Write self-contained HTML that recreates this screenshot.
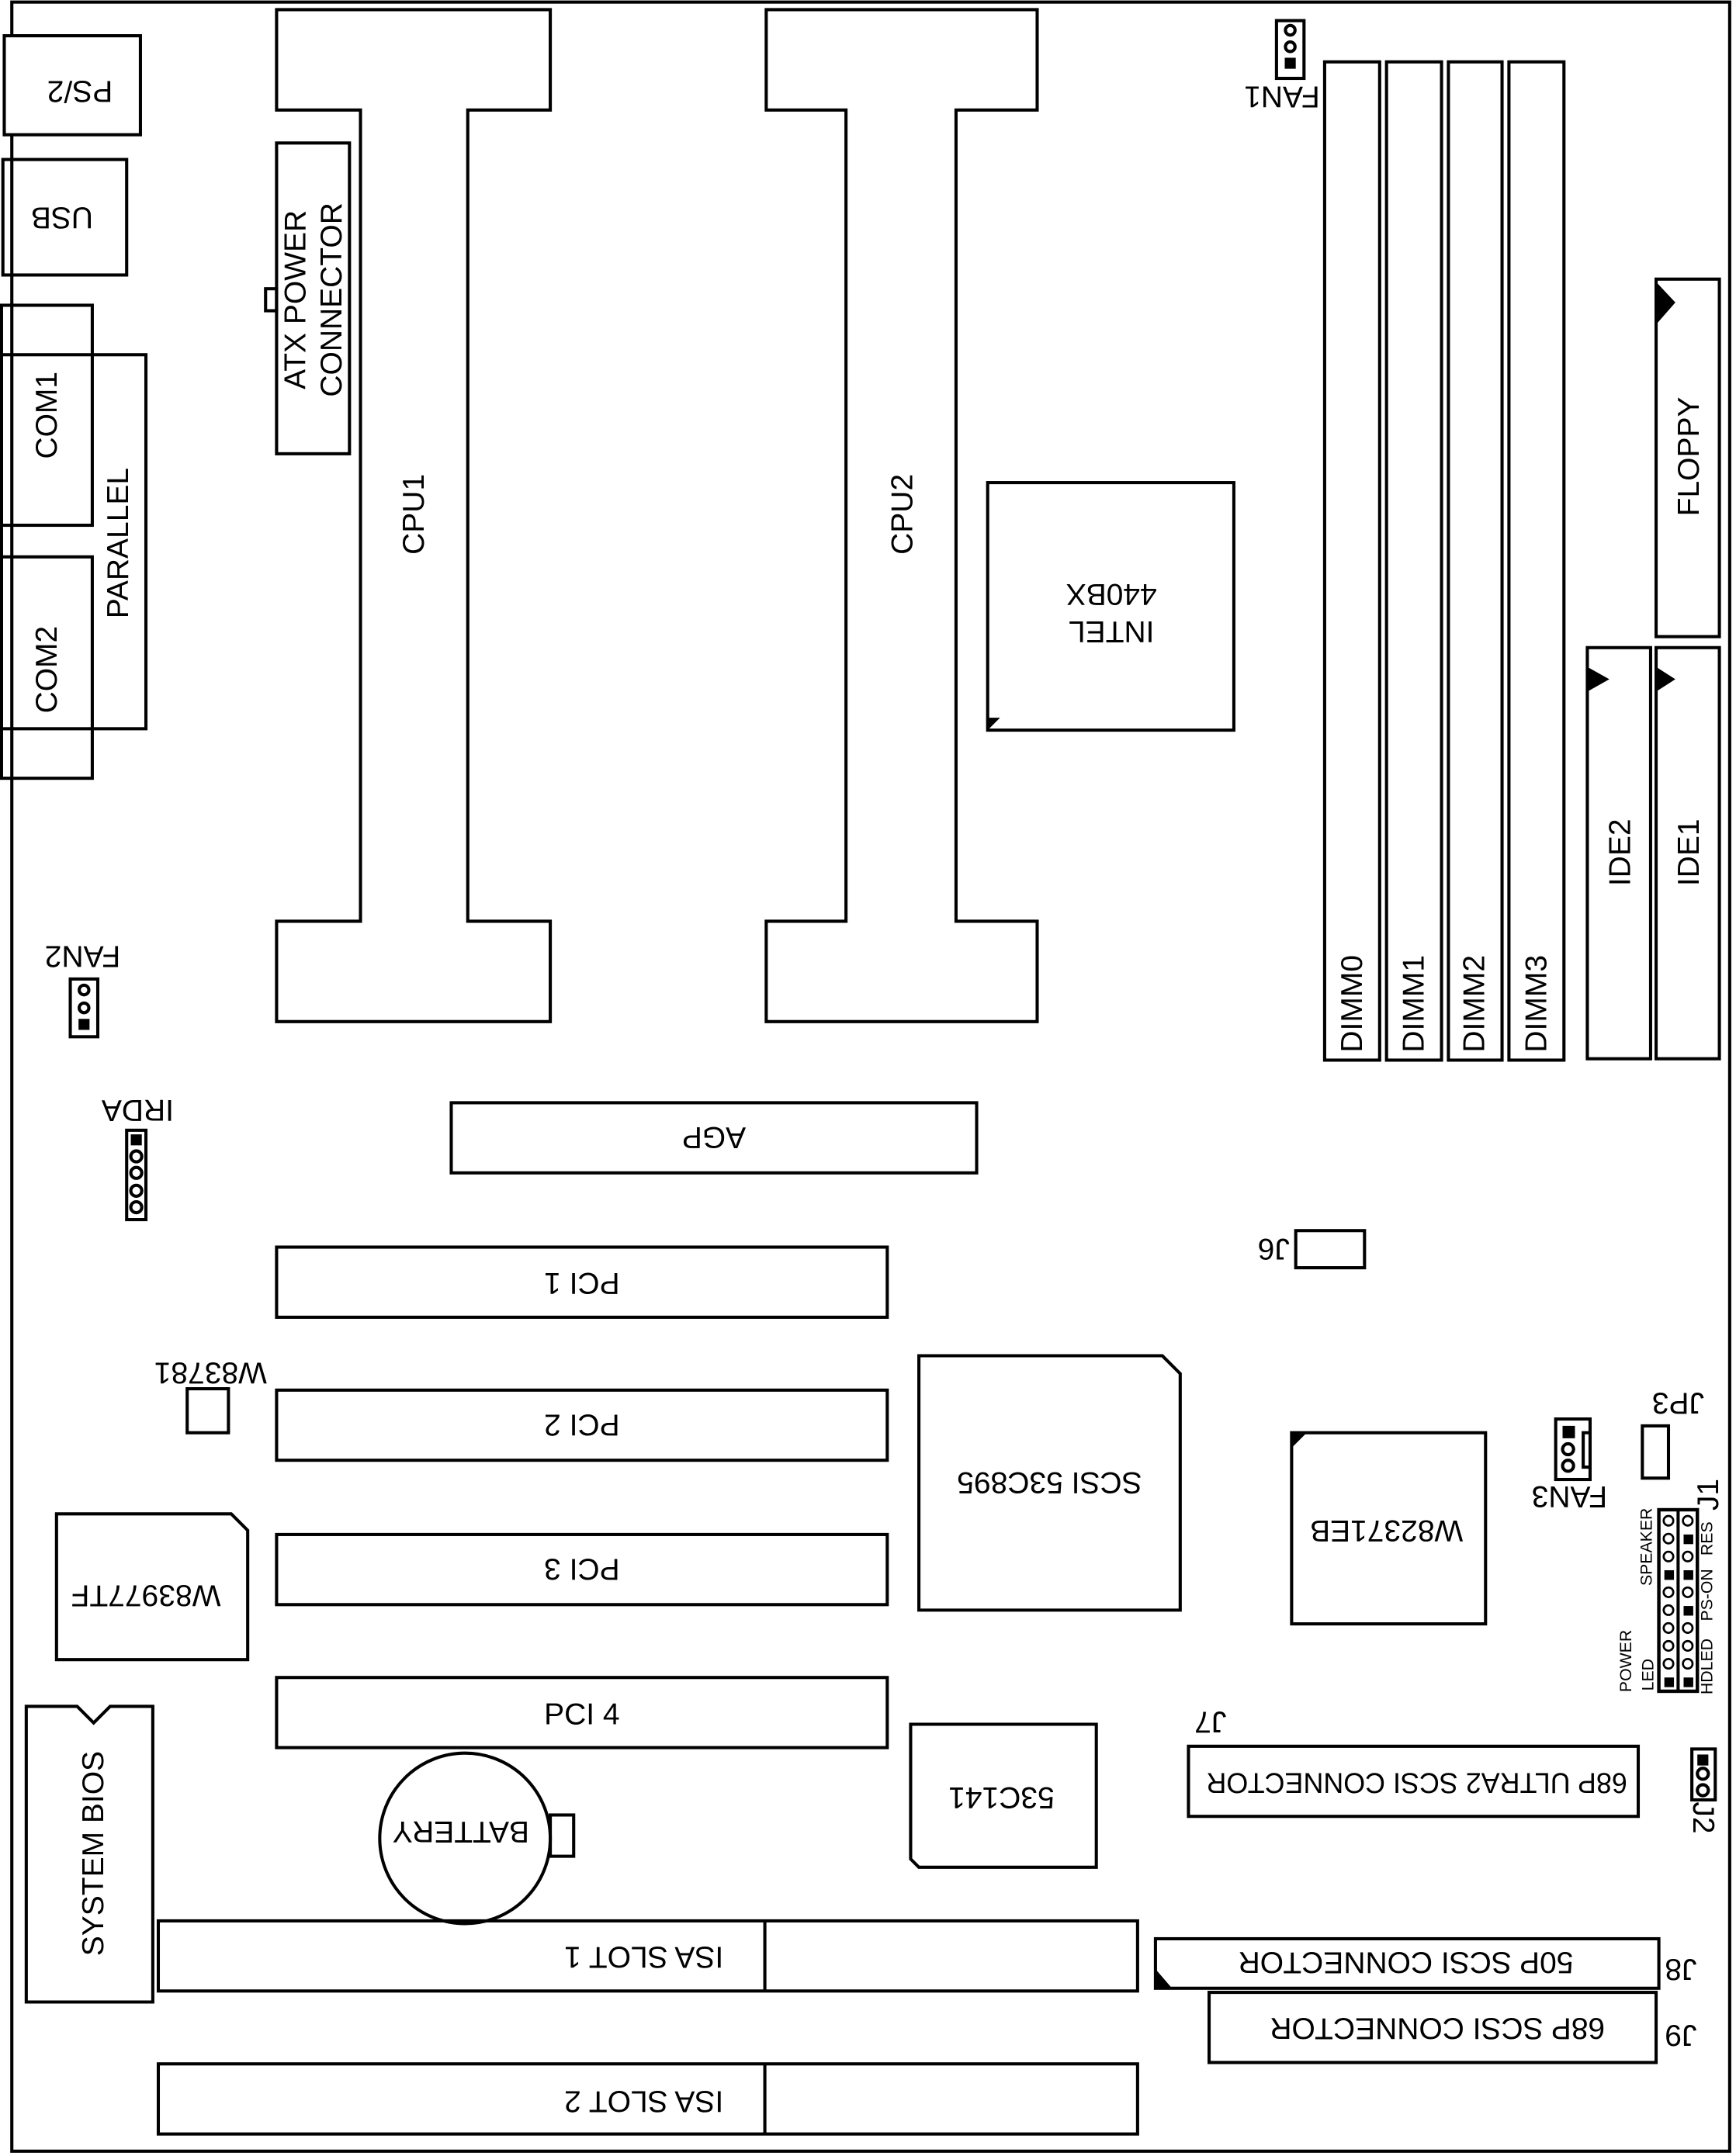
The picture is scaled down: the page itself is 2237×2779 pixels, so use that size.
<!DOCTYPE html>
<html><head><meta charset="utf-8"><style>html,body{margin:0;padding:0;background:#fff}svg{display:block}</style></head>
<body>
<svg xmlns="http://www.w3.org/2000/svg" width="2237" height="2779" viewBox="0 0 1262 1568">
<g fill="none" stroke="#000" stroke-width="2.3">
<rect x="8.5" y="1.5" width="1249" height="1563"/>
<rect x="3" y="26" width="99" height="72" fill="#fff"/>
<rect x="2" y="116" width="90" height="84"/>
<rect x="1" y="222" width="66" height="160"/>
<rect x="1" y="258" width="105" height="272"/>
<rect x="1" y="405" width="66" height="161"/>
<rect x="201" y="104" width="53" height="226"/>
<rect x="193" y="210" width="8" height="16"/>
<path d="M201,7 H400 V80 H340 V670 H400 V743 H201 V670 H262 V80 H201 Z"/>
<path d="M557,7 H754 V80 H695 V670 H754 V743 H557 V670 H615 V80 H557 Z"/>
<rect x="718" y="351" width="179" height="180"/>
<rect x="928" y="15" width="20" height="42"/>
<circle cx="938" cy="22" r="3.5"/><circle cx="938" cy="34" r="3.5"/>
<rect x="963" y="45" width="40" height="726"/>
<rect x="1008" y="45" width="40" height="726"/>
<rect x="1053" y="45" width="39" height="726"/>
<rect x="1097" y="45" width="40" height="726"/>
<rect x="1204" y="203" width="46" height="260"/>
<rect x="1154" y="471" width="46" height="299"/>
<rect x="1204" y="471" width="46" height="299"/>
<rect x="51" y="712" width="20" height="42"/>
<circle cx="61" cy="720" r="3.5"/><circle cx="61" cy="733" r="3.5"/>
<rect x="92" y="822" width="14" height="65"/>
<circle cx="99" cy="841" r="4"/><circle cx="99" cy="853" r="4"/><circle cx="99" cy="866" r="4"/><circle cx="99" cy="878" r="4"/>
<rect x="328" y="802" width="382" height="51"/>
<rect x="942" y="895" width="50" height="27"/>
<rect x="201" y="907" width="444" height="51"/>
<rect x="201" y="1011" width="444" height="51"/>
<rect x="201" y="1116" width="444" height="51"/>
<rect x="201" y="1220" width="444" height="51"/>
<rect x="136" y="1010" width="30" height="32"/>
<path d="M41,1101 H168 L180,1113 V1207 H41 Z"/>
<path d="M19,1241 H56 L68,1253 L80,1241 H111 V1456 H19 Z"/>
<path d="M668,986 H845 L858,999 V1171 H668 Z"/>
<rect x="939" y="1042" width="141" height="139"/>
<rect x="1131" y="1032" width="25" height="44"/>
<path d="M1156,1042 H1151 V1067 H1156"/>
<circle cx="1140" cy="1054" r="4"/><circle cx="1140" cy="1066" r="4"/>
<rect x="1194" y="1037" width="19" height="38"/>
<rect x="1206" y="1098" width="28" height="132" stroke-width="2.5"/>
<line x1="1220" y1="1098" x2="1220" y2="1230"/>
<rect x="864" y="1270" width="327" height="51"/>
<rect x="1230" y="1272" width="17" height="37"/>
<circle cx="1238" cy="1290" r="4"/><circle cx="1238" cy="1302" r="4"/>
<path d="M662,1254 H797 V1358 H668 L662,1352 Z"/>
<circle cx="338" cy="1337" r="62"/>
<rect x="400" y="1320" width="17" height="30"/>
<rect x="115" y="1397" width="712" height="51"/><line x1="556" y1="1397" x2="556" y2="1448"/>
<rect x="115" y="1501" width="712" height="51"/><line x1="556" y1="1501" x2="556" y2="1552"/>
<rect x="840" y="1410" width="366" height="36"/>
<rect x="879" y="1449" width="325" height="51"/>
</g>
<g fill="#000">
<path d="M718,531 V522 H727 Z"/>
<rect x="934" y="42" width="8" height="8"/>
<path d="M1204,205 L1218,220 L1204,236 Z"/>
<path d="M1154,485 L1170,494 L1154,503 Z"/>
<path d="M1204,485 L1218,494 L1204,503 Z"/>
<rect x="57" y="741" width="8" height="8"/>
<rect x="95" y="825" width="8" height="8"/>
<path d="M939,1042 H950 L939,1053 Z"/>
<rect x="1136" y="1037" width="9" height="9"/>
<rect x="1234" y="1276" width="8" height="8"/>
<path d="M840,1446 V1432 L852,1446 Z"/>
</g>
<g fill="none" stroke="#000" stroke-width="1.5">
<circle cx="1213" cy="1106" r="3.5"/><circle cx="1227" cy="1106" r="3.5"/>
<circle cx="1213" cy="1119" r="3.5"/>
<circle cx="1213" cy="1132" r="3.5"/><circle cx="1227" cy="1132" r="3.5"/>
<circle cx="1213" cy="1158" r="3.5"/><circle cx="1227" cy="1158" r="3.5"/>
<circle cx="1213" cy="1171" r="3.5"/>
<circle cx="1213" cy="1184" r="3.5"/><circle cx="1227" cy="1184" r="3.5"/>
<circle cx="1213" cy="1197" r="3.5"/><circle cx="1227" cy="1197" r="3.5"/>
<circle cx="1213" cy="1210" r="3.5"/><circle cx="1227" cy="1210" r="3.5"/>
</g>
<g fill="#000">
<rect x="1224" y="1116" width="7" height="7"/>
<rect x="1210" y="1142" width="7" height="7"/><rect x="1224" y="1142" width="7" height="7"/>
<rect x="1224" y="1168" width="7" height="7"/>
<rect x="1210" y="1220" width="7" height="7"/><rect x="1224" y="1220" width="7" height="7"/>
</g>
<g font-family="Liberation Sans, sans-serif" font-size="22" text-anchor="middle" dominant-baseline="central" fill="#000">
<text transform="translate(58,66) rotate(180)">PS/2</text>
<text transform="translate(45,158) rotate(180)">USB</text>
<text transform="translate(34,302) rotate(-90)">COM1</text>
<text transform="translate(86,395) rotate(-90)">PARALLEL</text>
<text transform="translate(34,487) rotate(-90)">COM2</text>
<text transform="translate(215,218) rotate(-90)">ATX POWER</text>
<text transform="translate(241,218) rotate(-90)">CONNECTOR</text>
<text transform="translate(301,374) rotate(-90)">CPU1</text>
<text transform="translate(656,374) rotate(-90)">CPU2</text>
<text transform="translate(808,459) rotate(180)">INTEL</text>
<text transform="translate(808,432) rotate(180)">440BX</text>
<text transform="translate(932,70) rotate(180)">FAN1</text>
<text transform="translate(983,730) rotate(-90)">DIMM0</text>
<text transform="translate(1028,730) rotate(-90)">DIMM1</text>
<text transform="translate(1072,730) rotate(-90)">DIMM2</text>
<text transform="translate(1117,730) rotate(-90)">DIMM3</text>
<text transform="translate(1228,332) rotate(-90)">FLOPPY</text>
<text transform="translate(1178,620) rotate(-90)">IDE2</text>
<text transform="translate(1228,620) rotate(-90)">IDE1</text>
<text transform="translate(60,695) rotate(180)">FAN2</text>
<text transform="translate(100,807) rotate(180)">IRDA</text>
<text transform="translate(519,827) rotate(180)">AGP</text>
<text transform="translate(926,908) rotate(180)">J6</text>
<text transform="translate(423,933) rotate(180)">PCI 1</text>
<text transform="translate(423,1036) rotate(180)">PCI 2</text>
<text transform="translate(423,1141) rotate(180)">PCI 3</text>
<text x="423" y="1247">PCI 4</text>
<text transform="translate(153,998) rotate(180)">W83781</text>
<text transform="translate(106,1160) rotate(180)">W83977TF</text>
<text transform="translate(68,1348) rotate(-90)">SYSTEM BIOS</text>
<text transform="translate(763,1078) rotate(180)">SCSI 53C895</text>
<text transform="translate(1008,1113) rotate(180)">W82371EB</text>
<text transform="translate(1141,1088) rotate(180)">FAN3</text>
<text transform="translate(1220,1020) rotate(180)">JP3</text>
<text transform="translate(1242,1087) rotate(-90)">J1</text>
<text transform="translate(880,1252) rotate(180)">J7</text>
<text transform="translate(1030,1297) rotate(180)" font-size="21" textLength="306" lengthAdjust="spacingAndGlyphs">68P ULTRA2 SCSI CONNECTOR</text>
<text transform="translate(1238,1322) rotate(90)">J2</text>
<text transform="translate(728,1307) rotate(180)">53C141</text>
<text transform="translate(335,1332) rotate(180)">BATTERY</text>
<text transform="translate(468,1423) rotate(180)">ISA SLOT 1</text>
<text transform="translate(468,1528) rotate(180)">ISA SLOT 2</text>
<text transform="translate(1022,1427) rotate(180)">50P SCSI CONNECTOR</text>
<text transform="translate(1222,1432) rotate(180)">J8</text>
<text transform="translate(1045,1475) rotate(180)">68P SCSI CONNECTOR</text>
<text transform="translate(1222,1480) rotate(180)">J9</text>
</g>
<g font-family="Liberation Sans, sans-serif" font-size="12" fill="#000" text-anchor="middle" dominant-baseline="central">
<text transform="translate(1197,1125) rotate(-90)">SPEAKER</text>
<text transform="translate(1182,1208) rotate(-90)">POWER</text>
<text transform="translate(1198,1218) rotate(-90)">LED</text>
<text transform="translate(1241,1119) rotate(-90)">RES</text>
<text transform="translate(1241,1160) rotate(-90)">PS-ON</text>
<text transform="translate(1241,1212) rotate(-90)">HDLED</text>
</g>
</svg>
</body></html>
